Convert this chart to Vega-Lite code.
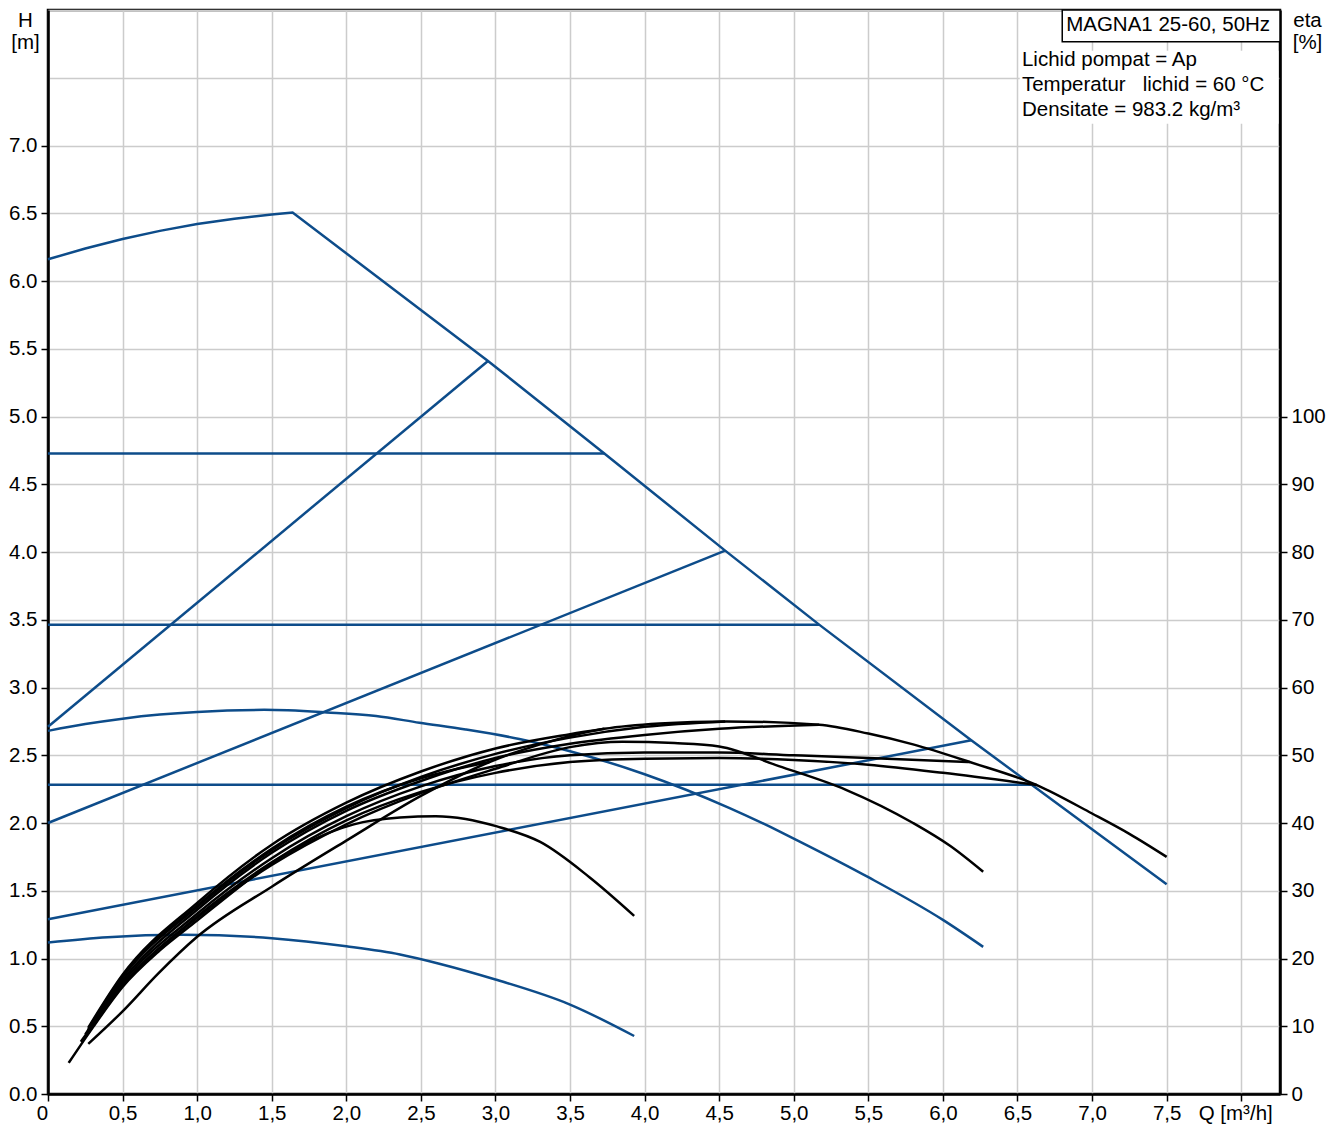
{
  "$schema": "https://vega.github.io/schema/vega-lite/v6.json",
  "width": 1232,
  "height": 1084,
  "autosize": {"type": "none"},
  "padding": {"left": 48, "top": 10, "right": 47, "bottom": 32},
  "background": "white",
  "config": {
    "view": {"stroke": "black", "strokeWidth": 2.5},
    "font": "Liberation Sans",
    "axis": {
      "labelFont": "Liberation Sans", "labelFontSize": 20.5, "labelColor": "black",
      "titleFont": "Liberation Sans", "titleFontSize": 20.5, "titleFontWeight": "normal", "titleColor": "black",
      "domainColor": "black", "domainWidth": 2.5, "tickColor": "black", "tickWidth": 1.5, "tickSize": 7,
      "gridColor": "#cccccc", "gridWidth": 1.5, "gridOpacity": 1, "labelFlush": false
    }
  },
  "datasets": {
    "bluestraight": [
      {"c":"max","q":0,"h":6.16},{"c":"max","q":0.25,"h":6.24},{"c":"max","q":0.5,"h":6.31},{"c":"max","q":0.75,"h":6.37},{"c":"max","q":1,"h":6.42},{"c":"max","q":1.25,"h":6.46},{"c":"max","q":1.5,"h":6.49},{"c":"max","q":1.64,"h":6.505},{"c":"max","q":2.95,"h":5.41},{"c":"max","q":3.73,"h":4.727},{"c":"max","q":4.54,"h":4.01},{"c":"max","q":5.17,"h":3.464},{"c":"max","q":6.19,"h":2.61},{"c":"max","q":6.62,"h":2.262},{"c":"max","q":7.5,"h":1.548},
      {"c":"cp1","q":0,"h":4.727},{"c":"cp1","q":3.73,"h":4.727},
      {"c":"cp2","q":0,"h":3.464},{"c":"cp2","q":5.17,"h":3.464},
      {"c":"cp3","q":0,"h":2.282},{"c":"cp3","q":6.62,"h":2.282},
      {"c":"pp1","q":0,"h":2.71},{"c":"pp1","q":2.95,"h":5.41},
      {"c":"pp2","q":0,"h":2.0},{"c":"pp2","q":4.54,"h":4.01},
      {"c":"pp3","q":0,"h":1.29},{"c":"pp3","q":6.19,"h":2.61}
    ],
    "bluecurved": [
      {"c":"A","q":0,"h":2.68},{"c":"A","q":0.25,"h":2.73},{"c":"A","q":0.5,"h":2.77},{"c":"A","q":0.75,"h":2.8},{"c":"A","q":1,"h":2.82},{"c":"A","q":1.45,"h":2.835},{"c":"A","q":1.87,"h":2.816},{"c":"A","q":2.2,"h":2.79},{"c":"A","q":2.49,"h":2.74},{"c":"A","q":2.8,"h":2.69},{"c":"A","q":3.16,"h":2.62},{"c":"A","q":3.5,"h":2.53},{"c":"A","q":4,"h":2.36},{"c":"A","q":4.57,"h":2.11},{"c":"A","q":4.9,"h":1.94},{"c":"A","q":5.04,"h":1.863},{"c":"A","q":5.5,"h":1.6},{"c":"A","q":6,"h":1.285},{"c":"A","q":6.27,"h":1.086},
      {"c":"B","q":0,"h":1.118},{"c":"B","q":0.4,"h":1.157},{"c":"B","q":0.9,"h":1.175},{"c":"B","q":1.5,"h":1.15},{"c":"B","q":2,"h":1.09},{"c":"B","q":2.36,"h":1.03},{"c":"B","q":2.63,"h":0.96},{"c":"B","q":3,"h":0.845},{"c":"B","q":3.5,"h":0.66},{"c":"B","q":3.93,"h":0.428}
    ],
    "black": [
      {"c":"M","q":0.27,"e":7.4},{"c":"M","q":0.5,"e":12.2},{"c":"M","q":0.74,"e":17.8},{"c":"M","q":1.0,"e":23.2},{"c":"M","q":1.5,"e":30.6},{"c":"M","q":2.0,"e":37.4},{"c":"M","q":2.5,"e":44.0},{"c":"M","q":2.96,"e":49.0},{"c":"M","q":3.3,"e":51.6},{"c":"M","q":3.73,"e":53.9},{"c":"M","q":4.1,"e":54.7},{"c":"M","q":4.55,"e":55.0},{"c":"M","q":5.17,"e":54.5},{"c":"M","q":5.5,"e":53.2},{"c":"M","q":5.8,"e":51.6},{"c":"M","q":6.18,"e":49.0},{"c":"M","q":6.63,"e":45.6},{"c":"M","q":7.0,"e":41.4},{"c":"M","q":7.25,"e":38.4},{"c":"M","q":7.5,"e":35.0},
      {"c":"cp1","q":0.27,"e":9.8},{"c":"cp1","q":0.5,"e":17.6},{"c":"cp1","q":1.0,"e":28.2},{"c":"cp1","q":1.5,"e":36.8},{"c":"cp1","q":2.0,"e":43.0},{"c":"cp1","q":2.5,"e":47.6},{"c":"cp1","q":3.0,"e":51.0},{"c":"cp1","q":3.5,"e":53.1},{"c":"cp1","q":3.73,"e":53.9},
      {"c":"pp1","q":0.27,"e":9.6},{"c":"pp1","q":0.5,"e":17.4},{"c":"pp1","q":1.0,"e":27.8},{"c":"pp1","q":1.5,"e":36.2},{"c":"pp1","q":2.0,"e":42.4},{"c":"pp1","q":2.5,"e":46.6},{"c":"pp1","q":2.96,"e":49.0},
      {"c":"pp2","q":0.27,"e":9.4},{"c":"pp2","q":0.5,"e":17.2},{"c":"pp2","q":1.0,"e":27.6},{"c":"pp2","q":1.5,"e":36.0},{"c":"pp2","q":2.0,"e":42.2},{"c":"pp2","q":2.5,"e":46.8},{"c":"pp2","q":3.0,"e":50.2},{"c":"pp2","q":3.5,"e":52.6},{"c":"pp2","q":4.0,"e":54.2},{"c":"pp2","q":4.54,"e":55.0},
      {"c":"cp2","q":0.25,"e":8.8},{"c":"cp2","q":0.5,"e":16.8},{"c":"cp2","q":1.0,"e":27.2},{"c":"cp2","q":1.5,"e":35.6},{"c":"cp2","q":2.0,"e":41.8},{"c":"cp2","q":2.5,"e":46.2},{"c":"cp2","q":3.0,"e":49.6},{"c":"cp2","q":3.5,"e":51.7},{"c":"cp2","q":4.0,"e":53.0},{"c":"cp2","q":4.5,"e":53.9},{"c":"cp2","q":5.17,"e":54.5},
      {"c":"pp3","q":0.25,"e":8.4},{"c":"pp3","q":0.5,"e":16.4},{"c":"pp3","q":1.0,"e":26.6},{"c":"pp3","q":1.5,"e":34.8},{"c":"pp3","q":2.0,"e":41.0},{"c":"pp3","q":2.5,"e":45.4},{"c":"pp3","q":3.0,"e":48.4},{"c":"pp3","q":3.5,"e":50.0},{"c":"pp3","q":4.0,"e":50.4},{"c":"pp3","q":4.5,"e":50.4},{"c":"pp3","q":5.0,"e":50.0},{"c":"pp3","q":5.5,"e":49.6},{"c":"pp3","q":6.18,"e":49.0},
      {"c":"cp3","q":0.22,"e":7.7},{"c":"cp3","q":0.5,"e":16.0},{"c":"cp3","q":1.0,"e":26.2},{"c":"cp3","q":1.5,"e":34.2},{"c":"cp3","q":2.0,"e":40.4},{"c":"cp3","q":2.5,"e":44.6},{"c":"cp3","q":3.0,"e":47.4},{"c":"cp3","q":3.5,"e":49.0},{"c":"cp3","q":4.0,"e":49.5},{"c":"cp3","q":4.5,"e":49.6},{"c":"cp3","q":5.0,"e":49.3},{"c":"cp3","q":5.5,"e":48.6},{"c":"cp3","q":6.0,"e":47.4},{"c":"cp3","q":6.63,"e":45.6},
      {"c":"A","q":0.27,"e":9.0},{"c":"A","q":0.5,"e":16.0},{"c":"A","q":1.0,"e":26.0},{"c":"A","q":1.5,"e":33.8},{"c":"A","q":2.0,"e":39.8},{"c":"A","q":2.5,"e":44.4},{"c":"A","q":3.0,"e":48.0},{"c":"A","q":3.5,"e":51.2},{"c":"A","q":3.85,"e":52.0},{"c":"A","q":4.2,"e":51.8},{"c":"A","q":4.5,"e":51.3},{"c":"A","q":4.9,"e":48.4},{"c":"A","q":5.35,"e":44.9},{"c":"A","q":5.8,"e":40.0},{"c":"A","q":6.05,"e":36.6},{"c":"A","q":6.27,"e":32.8},
      {"c":"B","q":0.139,"e":4.6},{"c":"B","q":0.3,"e":9.8},{"c":"B","q":0.5,"e":15.8},{"c":"B","q":0.75,"e":21.2},{"c":"B","q":1.0,"e":25.6},{"c":"B","q":1.25,"e":30.0},{"c":"B","q":1.44,"e":33.2},{"c":"B","q":1.71,"e":36.8},{"c":"B","q":2.05,"e":39.8},{"c":"B","q":2.36,"e":40.8},{"c":"B","q":2.6,"e":41.0},{"c":"B","q":2.8,"e":40.6},{"c":"B","q":3.01,"e":39.5},{"c":"B","q":3.3,"e":37.2},{"c":"B","q":3.63,"e":32.0},{"c":"B","q":3.93,"e":26.3}
    ]
  },
  "layer": [
    {
      "layer": [
        {
          "data": {"name": "bluestraight"},
          "mark": {"type": "line", "color": "#0d4c8a", "strokeWidth": 2.5},
          "encoding": {
            "x": {
              "field": "q", "type": "quantitative",
              "scale": {"domain": [0, 8.26], "nice": false, "zero": false},
              "axis": {
                "title": null,
                "values": [0,0.5,1,1.5,2,2.5,3,3.5,4,4.5,5,5.5,6,6.5,7,7.5,8],
                "labelExpr": "datum.value == 0 ? '0' : datum.value == 8 ? 'Q [m³/h]' : replace(format(datum.value, '.1f'), '.', ',')",
                "labelOffset": {"condition": {"test": "datum.value == 8 || datum.value == 0", "value": -6}, "value": 0},
                "grid": true, "labelPadding": 2
              }
            },
            "y": {
              "field": "h", "type": "quantitative",
              "scale": {"domain": [0, 8], "nice": false, "zero": false},
              "axis": {
                "orient": "left",
                "values": [0,0.5,1,1.5,2,2.5,3,3.5,4,4.5,5,5.5,6,6.5,7,7.5,8],
                "labelExpr": "datum.value <= 7 ? format(datum.value, '.1f') : ''",
                "tickOpacity": {"condition": {"test": "datum.value > 7", "value": 0}, "value": 1},
                "grid": true,
                "title": ["H", "[m]"], "titleAngle": 0, "titleAlign": "center", "titleBaseline": "top",
                "titleX": -23, "titleY": 0, "titleLineHeight": 22, "labelPadding": 4
              }
            },
            "detail": {"field": "c"}
          }
        },
        {
          "data": {"name": "bluecurved"},
          "mark": {"type": "line", "color": "#0d4c8a", "strokeWidth": 2.5, "interpolate": "monotone"},
          "encoding": {
            "x": {"field": "q", "type": "quantitative"},
            "y": {"field": "h", "type": "quantitative"},
            "detail": {"field": "c"}
          }
        },
        {
          "data": {"values": [{"k": 1}]},
          "mark": {"type": "rect", "fill": "white"},
          "encoding": {
            "x": {"datum": 6.515}, "x2": {"datum": 8.25},
            "y": {"datum": 7.7}, "y2": {"datum": 7.16}
          }
        },
        {
          "data": {"values": [{"k": 1}]},
          "mark": {"type": "rect", "fill": "white", "stroke": "black", "strokeWidth": 1.5},
          "encoding": {
            "x": {"datum": 6.8}, "x2": {"datum": 8.26},
            "y": {"datum": 8}, "y2": {"datum": 7.766}
          }
        },
        {
          "data": {"values": [{"t": "MAGNA1 25-60, 50Hz"}]},
          "mark": {"type": "text", "align": "center", "baseline": "middle", "fontSize": 20.5, "font": "Liberation Sans", "color": "black"},
          "encoding": {
            "x": {"datum": 7.51}, "y": {"datum": 7.889},
            "text": {"field": "t"}
          }
        },
        {
          "data": {"values": [{"k": 1}]},
          "mark": {"type": "text", "align": "left", "baseline": "middle", "fontSize": 20.5, "lineHeight": 25, "font": "Liberation Sans", "color": "black",
            "text": ["Lichid pompat = Ap", "Temperatur\u00a0\u00a0\u00a0lichid = 60 °C", "Densitate = 983.2 kg/m³"]},
          "encoding": {
            "x": {"datum": 6.53}, "y": {"datum": 7.631}
          }
        }
      ]
    },
    {
      "data": {"name": "black"},
      "mark": {"type": "line", "color": "black", "strokeWidth": 2.5, "interpolate": "monotone"},
      "encoding": {
        "x": {"field": "q", "type": "quantitative", "axis": {"title": null}},
        "y": {
          "field": "e", "type": "quantitative",
          "scale": {"domain": [0, 160], "nice": false, "zero": false},
          "axis": {
            "orient": "right",
            "values": [0,10,20,30,40,50,60,70,80,90,100],
            "grid": false,
            "title": ["eta", "[%]"], "titleAngle": 0, "titleAlign": "center", "titleBaseline": "top",
            "titleX": 27, "titleY": 0, "titleLineHeight": 22, "labelPadding": 4
          }
        },
        "detail": {"field": "c"}
      }
    }
  ],
  "resolve": {"scale": {"y": "independent"}, "axis": {"y": "independent"}}
}
